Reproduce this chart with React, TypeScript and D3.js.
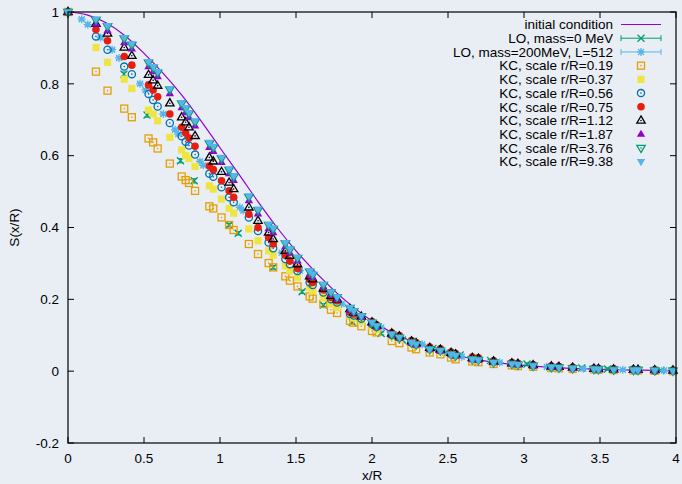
import React from 'react';
import * as d3 from 'd3';

// initial condition
const curveX = [0, 0.125, 0.25, 0.375, 0.5, 0.625, 0.75, 0.875, 1.0, 1.125, 1.25, 1.375, 1.5, 1.75, 2.0, 2.25, 2.5, 2.75, 3.0, 3.25, 3.5, 3.75, 4.0];
const curveY = [1.0, 0.992, 0.97, 0.934, 0.885, 0.83, 0.768, 0.697, 0.622, 0.548, 0.472, 0.4, 0.335, 0.225, 0.14, 0.085, 0.05, 0.028, 0.016, 0.009, 0.005, 0.003, 0.001];

// LO, mass=0 MeV
const lo0X = [0, 0.368, 0.52, 0.74, 0.83, 1.06, 1.12, 1.35, 1.54, 1.68, 1.87, 2.06, 2.2, 2.4, 2.58, 2.78, 3.02, 3.2, 3.38, 3.55, 3.72, 3.9];
const lo0Y = [1.0, 0.827, 0.713, 0.586, 0.53, 0.407, 0.384, 0.289, 0.221, 0.184, 0.136, 0.105, 0.087, 0.063, 0.045, 0.03, 0.02, 0.014, 0.009, 0.006, 0.004, 0.002];
const lo0Err = [0, 0.006, 0.006, 0.006, 0.006, 0.005, 0.005, 0.005, 0.005, 0.004, 0.004, 0.004, 0.004, 0.003, 0.003, 0.003, 0.003, 0.003, 0.003, 0.003, 0.003, 0.003];

// LO, mass=200MeV, L=512
const lo200X = [0, 0.09, 0.13, 0.215, 0.29, 0.336, 0.474, 0.51, 0.627, 0.704, 0.726, 0.868, 0.89, 1.13, 1.153, 1.406, 1.526, 1.71, 1.8, 2.06, 2.33, 2.48, 2.59, 2.84, 3.15, 3.39, 3.65, 3.92];
const lo200Y = [1.0, 0.98, 0.965, 0.929, 0.895, 0.872, 0.8, 0.783, 0.716, 0.672, 0.66, 0.584, 0.573, 0.456, 0.447, 0.33, 0.28, 0.21, 0.187, 0.122, 0.075, 0.052, 0.04, 0.024, 0.012, 0.007, 0.004, 0.002];
const lo200Err = [0, 0.004, 0.004, 0.004, 0.004, 0.004, 0.004, 0.004, 0.004, 0.004, 0.004, 0.004, 0.004, 0.004, 0.004, 0.003, 0.003, 0.003, 0.003, 0.003, 0.003, 0.003, 0.003, 0.003, 0.003, 0.003, 0.003, 0.003];

// KC points, shared x/R positions
const kcX = [0, 0.184, 0.26, 0.37, 0.42, 0.53, 0.56, 0.59, 0.67, 0.748, 0.774, 0.796, 0.836, 0.93, 0.956, 1.01, 1.06, 1.09, 1.19, 1.25, 1.32, 1.35, 1.43, 1.46, 1.51, 1.59, 1.61, 1.68, 1.73, 1.77, 1.855, 1.88, 1.93, 2.0, 2.03, 2.13, 2.18, 2.26, 2.29, 2.38, 2.45, 2.52, 2.55, 2.66, 2.7, 2.8, 2.92, 2.96, 3.06, 3.18, 3.23, 3.32, 3.46, 3.49, 3.59, 3.72, 3.75, 3.86, 3.98];

const kc019 = [1.0, 0.834, 0.781, 0.731, 0.707, 0.648, 0.637, 0.62, 0.578, 0.542, 0.532, 0.524, 0.502, 0.459, 0.453, 0.428, 0.407, 0.393, 0.354, 0.326, 0.301, 0.289, 0.264, 0.252, 0.236, 0.208, 0.202, 0.187, 0.171, 0.162, 0.14, 0.135,
  0.125, 0.112, 0.108, 0.084, 0.078, 0.066, 0.061, 0.052, 0.047, 0.038, 0.033, 0.027, 0.025, 0.02, 0.016, 0.014, 0.012, 0.009, 0.008, 0.006, 0.005, 0.004, 0.003, 0.002, 0.002, 0.001, 0.0];
const kc037 = [1.0, 0.901, 0.86, 0.813, 0.787, 0.727, 0.716, 0.697, 0.651, 0.616, 0.6, 0.592, 0.57, 0.516, 0.507, 0.479, 0.453, 0.44, 0.396, 0.363, 0.335, 0.323, 0.293, 0.279, 0.261, 0.233, 0.224, 0.205, 0.187, 0.177, 0.154, 0.148,
  0.138, 0.124, 0.117, 0.096, 0.089, 0.076, 0.071, 0.059, 0.054, 0.045, 0.042, 0.033, 0.031, 0.024, 0.02, 0.018, 0.015, 0.011, 0.01, 0.008, 0.006, 0.005, 0.004, 0.003, 0.003, 0.002, 0.001];
const kc056 = [1.0, 0.932, 0.895, 0.848, 0.827, 0.772, 0.755, 0.737, 0.691, 0.654, 0.639, 0.628, 0.603, 0.55, 0.541, 0.512, 0.484, 0.47, 0.428, 0.39, 0.358, 0.342, 0.312, 0.298, 0.279, 0.247, 0.24, 0.219, 0.2, 0.191, 0.159, 0.155,
  0.146, 0.131, 0.123, 0.101, 0.094, 0.08, 0.075, 0.063, 0.058, 0.049, 0.045, 0.036, 0.034, 0.027, 0.022, 0.02, 0.016, 0.012, 0.011, 0.009, 0.007, 0.006, 0.005, 0.004, 0.003, 0.002, 0.002];
const kc075 = [1.0, 0.951, 0.92, 0.876, 0.852, 0.797, 0.783, 0.764, 0.716, 0.679, 0.663, 0.649, 0.626, 0.571, 0.561, 0.53, 0.502, 0.484, 0.437, 0.4, 0.372, 0.354, 0.323, 0.307, 0.286, 0.256, 0.247, 0.226, 0.205, 0.196, 0.165, 0.159,
  0.152, 0.138, 0.129, 0.107, 0.099, 0.085, 0.08, 0.067, 0.062, 0.053, 0.049, 0.039, 0.037, 0.029, 0.024, 0.022, 0.018, 0.014, 0.013, 0.011, 0.008, 0.007, 0.006, 0.005, 0.004, 0.003, 0.002];
const kc112 = [1.0, 0.967, 0.94, 0.901, 0.878, 0.825, 0.81, 0.795, 0.746, 0.707, 0.693, 0.679, 0.655, 0.595, 0.584, 0.555, 0.525, 0.507, 0.456, 0.419, 0.386, 0.368, 0.335, 0.321, 0.298, 0.264, 0.256, 0.23, 0.21, 0.2, 0.173, 0.163,
  0.152, 0.136, 0.127, 0.105, 0.097, 0.083, 0.078, 0.065, 0.06, 0.051, 0.047, 0.037, 0.035, 0.027, 0.022, 0.02, 0.017, 0.013, 0.012, 0.01, 0.007, 0.006, 0.005, 0.004, 0.004, 0.003, 0.002];
const kc187 = [1.0, 0.966, 0.948, 0.915, 0.897, 0.848, 0.834, 0.82, 0.773, 0.734, 0.72, 0.706, 0.683, 0.623, 0.612, 0.581, 0.55, 0.531, 0.475, 0.438, 0.397, 0.386, 0.347, 0.329, 0.307, 0.27, 0.261, 0.234, 0.213, 0.2, 0.171, 0.163,
  0.15, 0.132, 0.123, 0.1, 0.091, 0.078, 0.073, 0.06, 0.056, 0.046, 0.042, 0.032, 0.03, 0.024, 0.02, 0.018, 0.015, 0.011, 0.01, 0.008, 0.006, 0.005, 0.004, 0.003, 0.003, 0.002, 0.001];
const kc376 = [1.0, 0.978, 0.96, 0.926, 0.908, 0.859, 0.845, 0.831, 0.784, 0.745, 0.731, 0.717, 0.694, 0.634, 0.623, 0.592, 0.56, 0.541, 0.485, 0.448, 0.407, 0.396, 0.356, 0.338, 0.315, 0.277, 0.268, 0.24, 0.22, 0.206, 0.176, 0.167,
  0.153, 0.135, 0.125, 0.102, 0.093, 0.08, 0.075, 0.061, 0.057, 0.047, 0.043, 0.033, 0.031, 0.024, 0.02, 0.018, 0.015, 0.011, 0.01, 0.008, 0.006, 0.005, 0.004, 0.003, 0.003, 0.002, 0.001];
const kc938 = [1.0, 0.98, 0.962, 0.929, 0.911, 0.862, 0.848, 0.834, 0.787, 0.748, 0.734, 0.72, 0.697, 0.637, 0.626, 0.595, 0.563, 0.544, 0.488, 0.451, 0.409, 0.398, 0.358, 0.34, 0.317, 0.279, 0.27, 0.242, 0.221, 0.207, 0.177, 0.168,
  0.154, 0.136, 0.126, 0.103, 0.094, 0.08, 0.075, 0.061, 0.057, 0.047, 0.043, 0.033, 0.031, 0.024, 0.02, 0.018, 0.015, 0.011, 0.01, 0.008, 0.006, 0.005, 0.004, 0.003, 0.003, 0.002, 0.001];

const kcLabels = ['KC, scale r/R=0.19', 'KC, scale r/R=0.37', 'KC, scale r/R=0.56', 'KC, scale r/R=0.75', 'KC, scale r/R=1.12', 'KC, scale r/R=1.87', 'KC, scale r/R=3.76', 'KC, scale r/R=9.38'];
const kcValues = [kc019, kc037, kc056, kc075, kc112, kc187, kc376, kc938];
const kcColors = ['#e69f00', '#f0e442', '#0072b2', '#e51e10', '#000000', '#9400d3', '#009e73', '#56b4e9'];
const kcShapes = ['box', 'boxf', 'circ', 'circf', 'tri', 'trif', 'itri', 'itrif'];

const xTicks = [0, 0.5, 1, 1.5, 2, 2.5, 3, 3.5, 4];
const yTicks = [-0.2, 0, 0.2, 0.4, 0.6, 0.8, 1];

const W = 682, H = 484;
const L = 68, R = 676, T = 12, B = 443;
const font = '"Liberation Sans", Arial, Helvetica, sans-serif';

function Marker({ shape, x, y, color }: { shape: string; x: number; y: number; color: string }) {
  const dot = <circle cx={x} cy={y} r={0.8} fill={color} />;
  switch (shape) {
    case 'box':
      return <g><rect x={x - 3.5} y={y - 3.5} width={7} height={7} fill="none" stroke={color} strokeWidth={1.3} />{dot}</g>;
    case 'boxf':
      return <rect x={x - 3.6} y={y - 3.6} width={7.2} height={7.2} fill={color} />;
    case 'circ':
      return <g><circle cx={x} cy={y} r={3.6} fill="none" stroke={color} strokeWidth={1.3} />{dot}</g>;
    case 'circf':
      return <circle cx={x} cy={y} r={3.8} fill={color} />;
    case 'tri':
    case 'trif': {
      const p = `M${x},${y - 4.6}L${x + 4.2},${y + 2.6}L${x - 4.2},${y + 2.6}Z`;
      return shape === 'tri'
        ? <g><path d={p} fill="none" stroke={color} strokeWidth={1.3} />{dot}</g>
        : <path d={p} fill={color} />;
    }
    case 'itri':
    case 'itrif': {
      const p = `M${x},${y + 4.6}L${x + 4.2},${y - 2.6}L${x - 4.2},${y - 2.6}Z`;
      return shape === 'itri'
        ? <g><path d={p} fill="none" stroke={color} strokeWidth={1.3} />{dot}</g>
        : <path d={p} fill={color} />;
    }
    case 'x':
      return <path d={`M${x - 3.5},${y - 3.5}L${x + 3.5},${y + 3.5}M${x - 3.5},${y + 3.5}L${x + 3.5},${y - 3.5}`} stroke={color} strokeWidth={1.3} />;
    case 'star':
      return <path d={`M${x - 4},${y}L${x + 4},${y}M${x},${y - 4}L${x},${y + 4}M${x - 3},${y - 3}L${x + 3},${y + 3}M${x - 3},${y + 3}L${x + 3},${y - 3}`} stroke={color} strokeWidth={1.3} />;
  }
  return null;
}

export default function App() {
  const xScale = d3.scaleLinear().domain([0, 4]).range([L, R]);
  const yScale = d3.scaleLinear().domain([-0.2, 1]).range([B, T]);

  const line = d3.line<number>()
    .x((_, i) => xScale(curveX[i]))
    .y(d => yScale(d))
    .curve(d3.curveMonotoneX);

  const errSeries = [
    { label: 'LO, mass=0 MeV', xs: lo0X, ys: lo0Y, err: lo0Err, color: '#009e73', shape: 'x' },
    { label: 'LO, mass=200MeV, L=512', xs: lo200X, ys: lo200Y, err: lo200Err, color: '#56b4e9', shape: 'star' },
  ];

  const legendRows = ['initial condition', ...errSeries.map(s => s.label), ...kcLabels];
  const rowY = (i: number) => 24.5 + i * 13.72;

  return (
    <div style={{ position: 'absolute', left: 0, top: 0, width: W, height: H, background: '#e9edf4' }}>
      <svg width={W} height={H} style={{ display: 'block' }} fontFamily={font}>
        <rect x={0} y={0} width={W} height={H} fill="#e9edf4" />

        {/* ticks, mirrored on all sides */}
        <g stroke="#000" strokeWidth={1}>
          {yTicks.map(t => (
            <g key={'y' + t}>
              <line x1={L} x2={L + 6} y1={yScale(t)} y2={yScale(t)} />
              <line x1={R} x2={R - 6} y1={yScale(t)} y2={yScale(t)} />
            </g>
          ))}
          {xTicks.map(t => (
            <g key={'x' + t}>
              <line x1={xScale(t)} x2={xScale(t)} y1={B} y2={B - 6} />
              <line x1={xScale(t)} x2={xScale(t)} y1={T} y2={T + 6} />
            </g>
          ))}
        </g>
        <g fontSize={13.5} fill="#000">
          {yTicks.map(t => (
            <text key={'yl' + t} x={L - 9} y={yScale(t)} dy="0.35em" textAnchor="end">{String(t)}</text>
          ))}
          {xTicks.map(t => (
            <text key={'xl' + t} x={xScale(t)} y={B + 20} textAnchor="middle">{String(t)}</text>
          ))}
          <text x={(L + R) / 2} y={480} textAnchor="middle">x/R</text>
          <text transform={`translate(19,${(T + B) / 2}) rotate(-90)`} textAnchor="middle">S(x/R)</text>
        </g>

        {/* initial condition */}
        <path d={line(curveY) || ''} fill="none" stroke="#9400d3" strokeWidth={1.2} />

        {/* LO series with error bars */}
        {errSeries.map(s => (
          <g key={s.label}>
            {s.xs.map((xv, i) => {
              const cx = xScale(xv), y0 = yScale(s.ys[i] - s.err[i]), y1 = yScale(s.ys[i] + s.err[i]);
              return (
                <g key={i}>
                  <path d={`M${cx},${y0}V${y1}M${cx - 3},${y0}H${cx + 3}M${cx - 3},${y1}H${cx + 3}`} stroke={s.color} strokeWidth={1} fill="none" />
                  <Marker shape={s.shape} x={cx} y={yScale(s.ys[i])} color={s.color} />
                </g>
              );
            })}
          </g>
        ))}

        {/* KC series */}
        {kcValues.map((vals, k) => (
          <g key={kcLabels[k]}>
            {vals.map((v, i) => (
              <Marker key={i} shape={kcShapes[k]} x={xScale(kcX[i])} y={yScale(v)} color={kcColors[k]} />
            ))}
          </g>
        ))}

        {/* frame */}
        <rect x={L} y={T} width={R - L} height={B - T} fill="none" stroke="#000" strokeWidth={1.2} />

        {/* legend */}
        <g fontSize={13.5}>
          {legendRows.map((label, i) => (
            <text key={label} x={613} y={rowY(i)} dy="0.35em" textAnchor="end" fill="#000">{label}</text>
          ))}
          <line x1={621} x2={661} y1={rowY(0)} y2={rowY(0)} stroke="#9400d3" strokeWidth={1.2} />
          {errSeries.map((s, j) => {
            const y = rowY(j + 1);
            return (
              <g key={s.label}>
                <path d={`M621,${y}H661M621,${y - 3}V${y + 3}M661,${y - 3}V${y + 3}`} stroke={s.color} strokeWidth={1} fill="none" />
                <Marker shape={s.shape} x={641} y={y} color={s.color} />
              </g>
            );
          })}
          {kcLabels.map((label, k) => (
            <Marker key={label} shape={kcShapes[k]} x={641} y={rowY(k + 3)} color={kcColors[k]} />
          ))}
        </g>
      </svg>
    </div>
  );
}
